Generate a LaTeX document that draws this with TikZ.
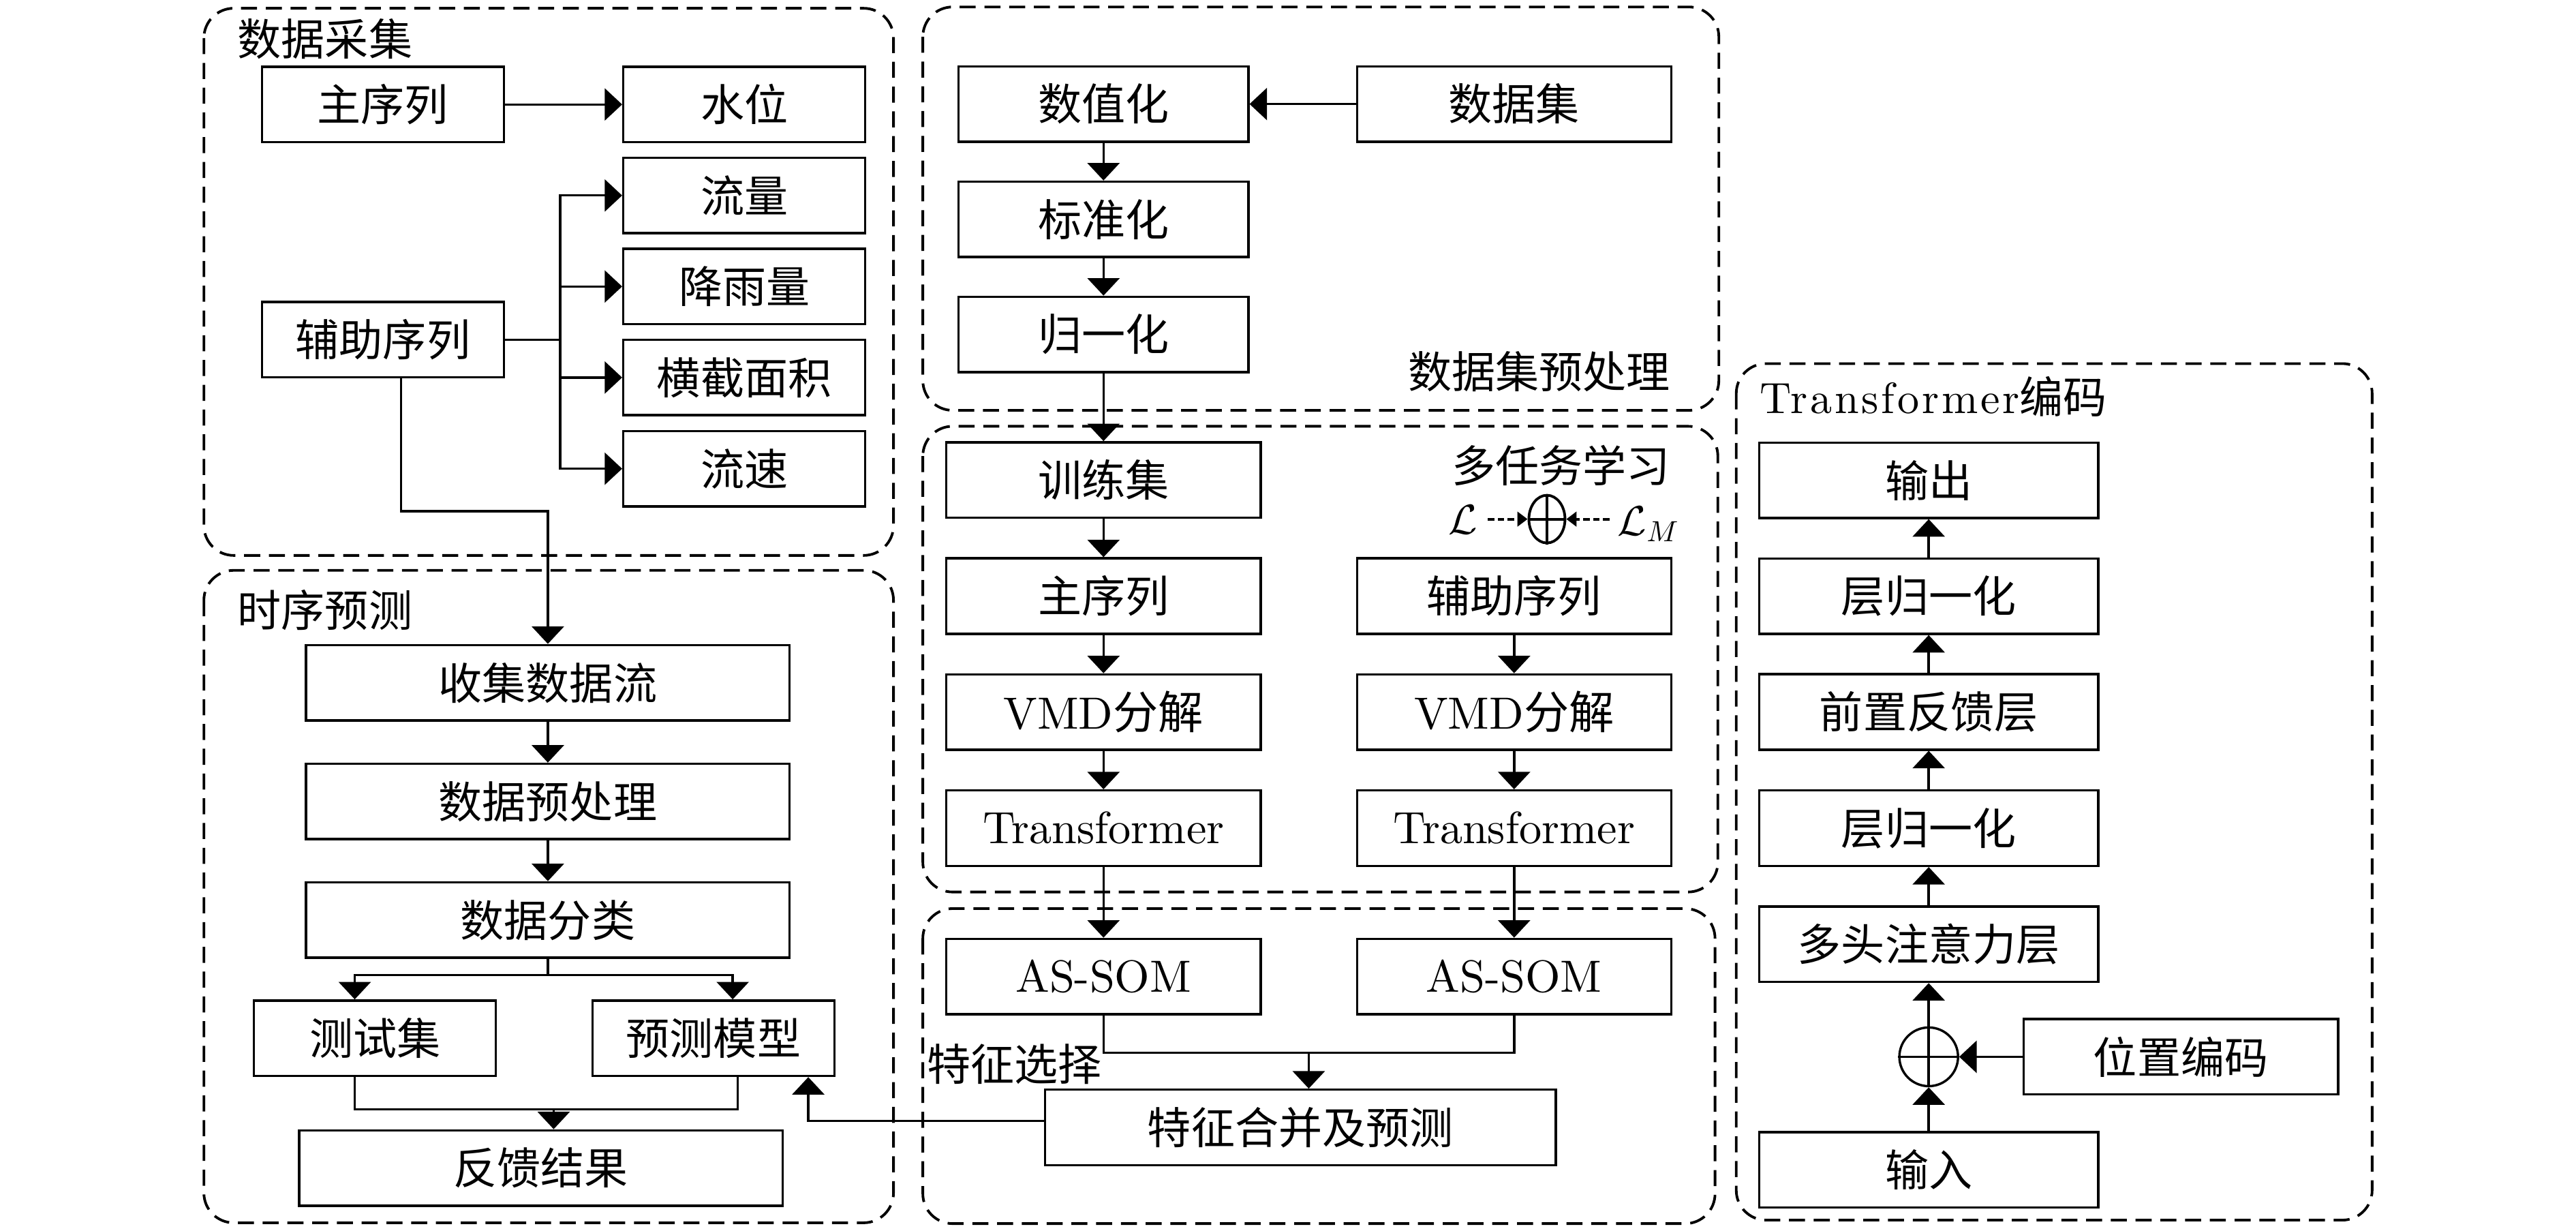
\documentclass[tikz,border=0pt]{standalone}
\usepackage{fontspec}
\newfontfamily\cjk{Noto Sans CJK SC}
\newfontfamily\lmten{lmroman10-regular}[Extension=.otf]
\usetikzlibrary{arrows.meta,calc,shapes.geometric}
\begin{document}
\begin{tikzpicture}[x=0.02cm,y=-0.02cm,
  box/.style={draw, line width=0.8pt, minimum height=0.91cm, inner sep=0pt, font=\fontsize{15.5}{18}\selectfont\lmten},
  cbox/.style={box, font=\fontsize{15}{18}\selectfont\cjk},
  grp/.style={draw, line width=0.9pt, dash pattern=on 5.5pt off 3pt, rounded corners=0.36cm},
  lbl/.style={inner sep=0pt, font=\fontsize{15}{18}\selectfont\cjk},
  lblL/.style={inner sep=0pt, font=\fontsize{15}{18}\selectfont\lmten},
  ln/.style={line width=0.8pt},
  arr/.style={line width=0.8pt, -{Triangle[length=6pt,width=11pt]}},
  darr/.style={line width=0.9pt, dash pattern=on 2.2pt off 1.2pt, -{Triangle[length=3.5pt,width=5pt]}},
  w1/.style={minimum width=2.92cm},
  w2/.style={minimum width=5.836cm},
  w3/.style={minimum width=3.496cm},
  w4/.style={minimum width=3.792cm},
  w5/.style={minimum width=4.09cm}
]
\useasboundingbox (0,0) rectangle (1554,742.1);
% group frames
\draw[grp] (123,5) rectangle (539,335);
\draw[grp] (123,344) rectangle (539,737.5);
\draw[grp] (556.7,4.2) rectangle (1036.9,247.5);
\draw[grp] (556.7,257.1) rectangle (1036.3,538);
\draw[grp] (556.7,548) rectangle (1034.6,738);
\draw[grp] (1047.4,219.3) rectangle (1431,735.9);
% group labels
\node[lbl,anchor=west] (gl1) at (143,23.5) {数据采集};
\node[lbl,anchor=west] (gl2) at (143,368) {时序预测};
\node[lbl,anchor=east] (gl3) at (1008,224) {数据集预处理};
\node[lbl,anchor=east] (gl4) at (1008,280.6) {多任务学习};
\node[lbl,anchor=west] (gl5) at (559,641.7) {特征选择};
\node[lblL,anchor=west] (gl6) at (1061.3,239) {\addfontfeatures{LetterSpace=6}Transformer{\cjk 编码}};
% group 1
\node[cbox,w1] (zhu1) at (231,63) {主序列};
\node[cbox,w1] (shuiwei) at (449,63) {水位};
\node[cbox,w1] (liuliang) at (449,117.9) {流量};
\node[cbox,w1] (jiangyu) at (449,172.8) {降雨量};
\node[cbox,w1] (hengjie) at (449,227.7) {横截面积};
\node[cbox,w1] (liusu) at (449,282.7) {流速};
\node[cbox,w1] (fuzhu1) at (231,204.9) {辅助序列};
% group 2
\node[cbox,w2] (shouji) at (330.5,411.8) {收集数据流};
\node[cbox,w2] (yuchuli) at (330.5,483.4) {数据预处理};
\node[cbox,w2] (fenlei) at (330.5,554.9) {数据分类};
\node[cbox,w1] (ceshi) at (226.2,626.2) {测试集};
\node[cbox,w1] (moxing) at (430.4,626.2) {预测模型};
\node[cbox,w2] (fankui) at (326.3,704.5) {反馈结果};
% group 3
\node[cbox,w3] (shuzhi) at (665.7,62.75) {数值化};
\node[cbox,w4] (shujuji) at (913.4,62.75) {数据集};
\node[cbox,w3] (biaozhun) at (665.7,132.3) {标准化};
\node[cbox,w3] (guiyi) at (665.7,201.75) {归一化};
% group 4
\node[cbox,w4] (xunlian) at (665.7,289.5) {训练集};
\node[cbox,w4] (zhu2) at (665.7,359.5) {主序列};
\node[box,w4] (vmd1) at (665.7,429.5) {VMD{\cjk 分解}};
\node[box,w4] (tf1) at (665.7,499.5) {Transformer};
\node[cbox,w4] (fuzhu2) at (913.4,359.5) {辅助序列};
\node[box,w4] (vmd2) at (913.4,429.5) {VMD{\cjk 分解}};
\node[box,w4] (tf2) at (913.4,499.5) {Transformer};
% multitask symbol
\node[inner sep=0pt, font=\fontsize{14}{16}\selectfont] (L1) at (882.5,313.5) {$\mathcal{L}$};
\node[draw, ellipse, line width=0.9pt, minimum width=0.436cm, minimum height=0.576cm, inner sep=0pt] (op1) at (933.2,313.1) {};
\draw[line width=0.9pt] (op1.north) -- (op1.south) (op1.west) -- (op1.east);
\node[inner sep=0pt, anchor=west, font=\fontsize{14}{16}\selectfont] (L2) at (975.6,316) {$\mathcal{L}_M$};
\draw[darr] (897.6,313.1) -- (op1.west);
\draw[darr] (970.9,313.1) -- (op1.east);
% group 5
\node[box,w4] (assom1) at (665.7,589) {AS-SOM};
\node[box,w4] (assom2) at (913.4,589) {AS-SOM};
\node[cbox,minimum width=6.16cm] (tezheng) at (784.5,680) {特征合并及预测};
% group 6
\node[cbox,w5] (shuchu) at (1163.5,289.7) {输出};
\node[cbox,w5] (ceng1) at (1163.5,359.6) {层归一化};
\node[cbox,w5] (qianzhi) at (1163.5,429.4) {前置反馈层};
\node[cbox,w5] (ceng2) at (1163.5,499.5) {层归一化};
\node[cbox,w5] (duotou) at (1163.5,569.5) {多头注意力层};
\node[draw, circle, line width=0.8pt, minimum size=0.708cm, inner sep=0pt] (plus) at (1163.5,637.4) {};
\draw[ln] (plus.north) -- (plus.south) (plus.west) -- (plus.east);
\node[cbox,minimum width=3.796cm] (weizhi) at (1315.6,637.4) {位置编码};
\node[cbox,w5] (shuru) at (1163.5,705.6) {输入};
% connectors group 1
\draw[arr] (zhu1.east) -- (shuiwei.west);
\coordinate (tr) at (338,204.9);
\draw[ln] (fuzhu1.east) -- (tr);
\draw[arr] (tr) |- (liuliang.west);
\draw[arr] (tr) |- (jiangyu.west);
\draw[arr] (tr) |- (hengjie.west);
\draw[arr] (tr) |- (liusu.west);
\coordinate (c1) at (242,308.3);
\draw[arr] (fuzhu1.south -| c1) -- (c1) -| (shouji.north);
% connectors group 2
\draw[arr] (shouji.south) -- (yuchuli.north);
\draw[arr] (yuchuli.south) -- (fenlei.north);
\coordinate (sA) at (214,588);
\coordinate (sB) at (442,588);
\draw[ln] (fenlei.south) -- (fenlei.south |- sA);
\draw[arr] (fenlei.south |- sA) -- (sA) -- (ceshi.north -| sA);
\draw[arr] (fenlei.south |- sA) -- (sB) -- (moxing.north -| sB);
\coordinate (jA) at (214,669);
\coordinate (jB) at (445,669);
\coordinate (jM) at (334,669);
\draw[ln] (ceshi.south -| jA) -- (jA) -- (jB) -- (moxing.south -| jB);
\draw[arr] (jM) -- (fankui.north -| jM);
\coordinate (fb) at (487.6,676);
\draw[arr] (tezheng.west |- fb) -- (fb) -- (moxing.south -| fb);
% connectors group 3/4/5
\draw[arr] (shujuji.west) -- (shuzhi.east);
\draw[arr] (shuzhi.south) -- (biaozhun.north);
\draw[arr] (biaozhun.south) -- (guiyi.north);
\draw[arr] (guiyi.south) -- (xunlian.north);
\draw[arr] (xunlian.south) -- (zhu2.north);
\draw[arr] (zhu2.south) -- (vmd1.north);
\draw[arr] (vmd1.south) -- (tf1.north);
\draw[arr] (fuzhu2.south) -- (vmd2.north);
\draw[arr] (vmd2.south) -- (tf2.north);
\draw[arr] (tf1.south) -- (assom1.north);
\draw[arr] (tf2.south) -- (assom2.north);
\coordinate (jn) at (789.5,635);
\draw[ln] (assom1.south) -- (assom1.south |- jn) -- (assom2.south |- jn) -- (assom2.south);
\draw[arr] (jn) -- (tezheng.north -| jn);
% connectors group 6
\draw[arr] (shuru.north) -- (plus.south);
\draw[arr] (plus.north) -- (duotou.south);
\draw[arr] (weizhi.west) -- (plus.east);
\draw[arr] (duotou.north) -- (ceng2.south);
\draw[arr] (ceng2.north) -- (qianzhi.south);
\draw[arr] (qianzhi.north) -- (ceng1.south);
\draw[arr] (ceng1.north) -- (shuchu.south);
\end{tikzpicture}
\end{document}
